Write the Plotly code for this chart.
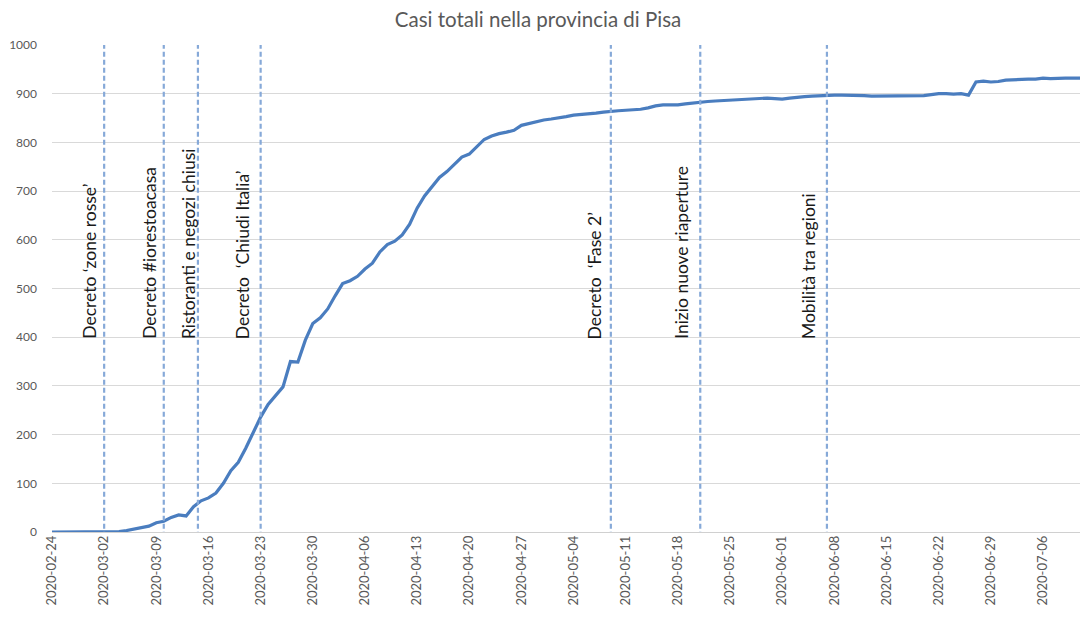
import plotly.graph_objects as go
import pandas as pd

start_date = "2020-02-24"
cases = [0, 0, 0, 0, 0, 0, 0, 0, 0, 1,
         3, 6, 8, 12, 19, 22, 30, 35, 33, 52,
         64, 70, 80, 100, 126, 143, 172, 205, 236, 262,
         280, 298, 350, 349, 394, 428, 440, 458, 485, 510,
         516, 525, 540, 552, 575, 590, 597, 610, 632, 665,
         690, 708, 728, 740, 756, 770, 776, 790, 806, 813,
         818, 821, 825, 835, 839, 843, 846, 848, 850, 853,
         856, 857, 859, 860, 862, 864, 865, 866, 867, 868,
         871, 875, 877, 877, 877, 879, 881, 883, 884, 885,
         886, 886, 887, 889, 890, 891, 891, 890, 889, 891,
         893, 894, 895, 896, 897, 897, 897, 897, 896, 896,
         895, 895, 896, 896, 896, 896, 896, 896, 898, 900,
         900, 899, 900, 897, 924, 926, 924, 925, 928, 929,
         929, 930, 930, 932, 931, 932, 932, 932, 932]
dates = pd.date_range(start_date, periods=len(cases), freq="D")

event_dates = ["2020-03-02", "2020-03-10", "2020-03-14 14:00", "2020-03-23",
               "2020-05-09", "2020-05-21", "2020-06-07"]
event_labels = ["Decreto \u2018zone rosse\u2019", "Decreto #iorestoacasa",
                "Ristoranti e negozi chiusi", "Decreto  \u2018Chiudi Italia\u2019",
                "Decreto  \u2018Fase 2\u2019", "Inizio nuove riaperture",
                "Mobilit\u00e0 tra regioni"]
label_shift = [-15, -15, -10, -18, -16, -19, -19]

tick_dates = pd.date_range("2020-02-24", "2020-07-06", freq="7D")
tick_text = [d.strftime("%Y-%m-%d") for d in tick_dates]

FIG_W, FIG_H = 1080, 618

fig = go.Figure()
fig.add_trace(go.Scatter(x=dates, y=cases, mode="lines",
                         line=dict(color="#4a7dbf", width=3.2),
                         showlegend=False))

for d in event_dates:
    fig.add_shape(type="line", xref="x", yref="y", x0=d, x1=d, y0=-10, y1=1000,
                  line=dict(color="#86a9d8", width=2.2, dash="5px,3px"), layer="above")

for d, t, s in zip(event_dates, event_labels, label_shift):
    fig.add_annotation(x=d, y=392, xref="x", yref="y", text=t, textangle=-90,
                       showarrow=False, xanchor="center", yanchor="bottom",
                       xshift=s, font=dict(family="Lato", size=17.5, color="#1a1a1a"))

fig.update_layout(
    width=FIG_W, height=FIG_H,
    margin=dict(l=44, r=4, t=37, b=94, autoexpand=False),
    paper_bgcolor="white", plot_bgcolor="white",
    font=dict(family="Lato", color="#595959"),
    title=dict(text="Casi totali nella provincia di Pisa", x=530 / FIG_W, xref="container",
               y=1 - 5 / FIG_H, yref="container", yanchor="top", xanchor="center",
               automargin=False, pad=dict(t=0, b=0),
               font=dict(family="Lato", size=20.5, color="#595959")),
    xaxis=dict(range=["2020-02-24", "2020-07-11 12:00"], tickmode="array",
               tickvals=tick_dates, ticktext=tick_text, tickangle=-90,
               showgrid=False, zeroline=False, showline=False, automargin=False,
               tickfont=dict(family="Lato", size=13, color="#595959")),
    yaxis=dict(range=[0, 1000], tickmode="linear", tick0=0, dtick=100,
               showgrid=True, gridcolor="#d9d9d9", gridwidth=1,
               zeroline=True, zerolinecolor="#d0d0d0", zerolinewidth=1.2,
               showline=False, ticklabelstandoff=14, automargin=False,
               tickfont=dict(family="Lato", size=12, color="#595959")),
)

fig.write_html("out.html")
